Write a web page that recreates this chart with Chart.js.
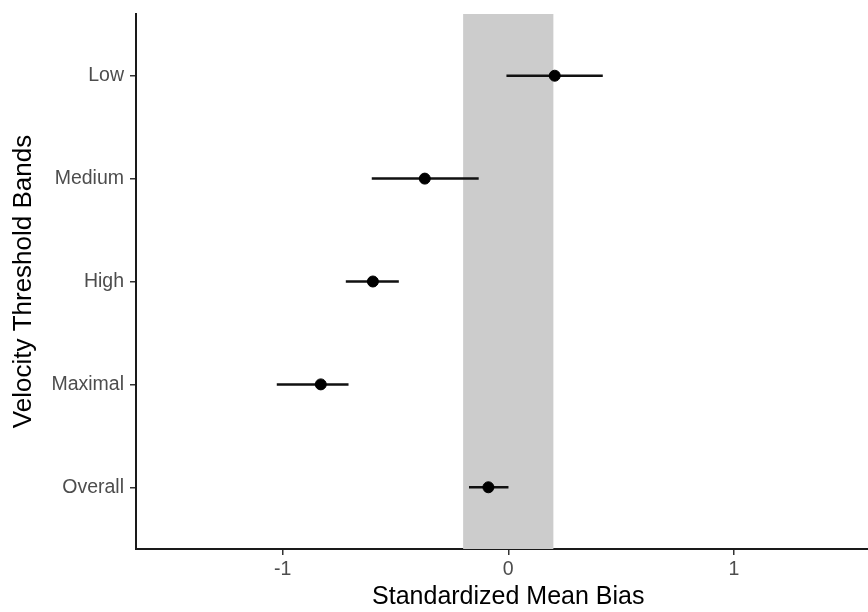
<!DOCTYPE html>
<html>
<head>
<meta charset="utf-8">
<script src="https://cdn.jsdelivr.net/npm/chart.js@4"></script>
<style>
    html, body { margin: 0; padding: 0; background: #fff; overflow: hidden; }
    #wrap { width: 887px; height: 612px; position: relative; }
</style>
</head>
<body>
<div id="wrap"><canvas id="biasChart"></canvas></div>
<script>
// velocity bands, top to bottom
const bands = ['Low', 'Medium', 'High', 'Maximal', 'Overall'];
const meanBias = [0.206, -0.370, -0.600, -0.831, -0.088];
const ciLower = [-0.008, -0.605, -0.720, -1.026, -0.174];
const ciUpper = [0.419, -0.131, -0.485, -0.708, 0.001];
const xTicks = [-1, 0, 1];
const trivialBand = [-0.2, 0.2];

const FONT = "'Liberation Sans', Arial, Helvetica, sans-serif";

// error bars as one line dataset, broken between bands
const ciSegments = [];
bands.forEach((b, i) => {
    ciSegments.push({ x: ciLower[i], y: i });
    ciSegments.push({ x: ciUpper[i], y: i });
    ciSegments.push({ x: null, y: null });
});

const pointData = bands.map((b, i) => ({ x: meanBias[i], y: i }));

// shaded region behind the marks
const bandShade = {
    id: 'bandShade',
    beforeDatasetsDraw(chart) {
        const { ctx, chartArea, scales } = chart;
        const x0 = scales.x.getPixelForValue(trivialBand[0]);
        const x1 = scales.x.getPixelForValue(trivialBand[1]);
        ctx.save();
        ctx.fillStyle = '#cccccc';
        ctx.fillRect(x0, chartArea.top, x1 - x0, chartArea.bottom - chartArea.top);
        ctx.restore();
    }
};

new Chart(document.getElementById('biasChart').getContext('2d'), {
    type: 'scatter',
    data: {
        datasets: [{
            data: pointData,
            backgroundColor: '#000',
            borderColor: '#000',
            pointRadius: 5.5,
            pointHoverRadius: 5.5,
            order: 0
        }, {
            data: ciSegments,
            showLine: true,
            spanGaps: false,
            borderColor: '#111',
            borderWidth: 2.5,
            pointRadius: 0,
            order: 1
        }]
    },
    options: {
        responsive: true,
        maintainAspectRatio: false,
        animation: false,
        layout: { padding: { top: 14, right: 2, left: 0, bottom: 0 } },
        plugins: {
            legend: { display: false },
            tooltip: { enabled: false }
        },
        scales: {
            x: {
                type: 'linear',
                min: -1.65,
                max: 1.65,
                afterBuildTicks: axis => { axis.ticks = xTicks.map(v => ({ value: v })); },
                afterFit: axis => { axis.height = 63; },
                ticks: {
                    color: '#4d4d4d',
                    font: { family: FONT, size: 19.5 },
                    padding: 3,
                    maxRotation: 0,
                    callback: v => String(v)
                },
                grid: { drawOnChartArea: false, drawTicks: true, tickLength: 6, tickColor: '#333', lineWidth: 1.5 },
                border: { display: true, color: '#1a1a1a', width: 2 },
                title: {
                    display: true,
                    text: 'Standardized Mean Bias',
                    color: '#000',
                    font: { family: FONT, size: 25 },
                    padding: { top: 0, bottom: 0 }
                }
            },
            y: {
                type: 'linear',
                reverse: true,
                min: -0.6,
                max: 4.6,
                afterBuildTicks: axis => { axis.ticks = bands.map((b, i) => ({ value: i })); },
                afterFit: axis => {
                    axis.width = 136;
                    axis.paddingTop = 0;
                    axis.paddingBottom = 0;
                },
                ticks: {
                    color: '#4d4d4d',
                    font: { family: FONT, size: 19.5 },
                    padding: 6,
                    callback: v => bands[v]
                },
                grid: { drawOnChartArea: false, drawTicks: true, tickLength: 6, tickColor: '#333', lineWidth: 1.5 },
                border: { display: true, color: '#1a1a1a', width: 2 },
                title: {
                    display: true,
                    text: 'Velocity Threshold Bands',
                    color: '#000',
                    font: { family: FONT, size: 26 },
                    padding: { top: 8, bottom: 0 }
                }
            }
        }
    },
    plugins: [bandShade]
});
</script>
</body>
</html>
